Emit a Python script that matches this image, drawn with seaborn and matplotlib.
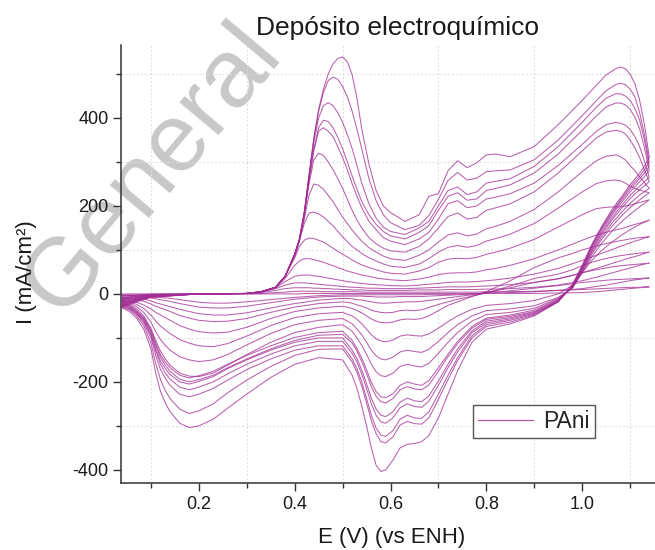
import numpy as np
import pandas as pd
import matplotlib
matplotlib.use("Agg")
import matplotlib.pyplot as plt
from matplotlib.lines import Line2D
from matplotlib.ticker import FixedLocator
import seaborn as sns

# ---------------- data ----------------
E_fwd = [0.04, 0.07, 0.10, 0.20, 0.30, 0.33, 0.36, 0.38, 0.40, 0.41,
         0.42, 0.43, 0.44, 0.45, 0.46, 0.47, 0.48, 0.49, 0.50, 0.51,
         0.52, 0.53, 0.54, 0.555, 0.57, 0.585, 0.60, 0.63, 0.66, 0.68,
         0.70, 0.72, 0.74, 0.76, 0.78, 0.80, 0.82, 0.85, 0.90, 0.95,
         1.00, 1.03, 1.05, 1.07, 1.08, 1.09, 1.10, 1.11, 1.12, 1.13,
         1.14]
E_rev = [1.14, 1.13, 1.12, 1.10, 1.08, 1.06, 1.04, 1.02, 1.00, 0.98,
         0.95, 0.90, 0.85, 0.80, 0.77, 0.74, 0.72, 0.70, 0.68, 0.665,
         0.65, 0.635, 0.62, 0.605, 0.59, 0.58, 0.57, 0.56, 0.55, 0.54,
         0.53, 0.52, 0.50, 0.45, 0.40, 0.35, 0.30, 0.26, 0.23, 0.20,
         0.18, 0.16, 0.14, 0.13, 0.12, 0.11, 0.10, 0.085, 0.07, 0.055,
         0.04]

# anodic (forward) sweeps, cycle 1 ... 15, current in mA/cm2
c01_fwd = [0, 0, 0, 0, 0, 0, 0, 0, 0, 0, 1, 1, 1, 1, 1, 1, 1, 1, 1, 1,
           1, 1, 1, 1, 1, 1, 1, 1, 1, 1, 1, 1, 1, 1, 1, 1, 1, 1, 1, 2,
           3, 5, 7, 9, 10, 11, 12, 13, 14, 15, 16]
c02_fwd = [-3, -2, -1, 0, 0, 1, 3, 4, 6, 6, 6, 6, 6, 6, 5, 5, 5, 5, 5, 5,
           5, 5, 4, 4, 4, 4, 4, 4, 4, 4, 4, 4, 4, 4, 4, 5, 5, 5, 6, 8,
           12, 17, 20, 24, 26, 28, 30, 32, 33, 35, 36]
c03_fwd = [-5, -3, -1, 0, 1, 3, 8, 12, 14, 14, 14, 14, 13, 13, 12, 12, 11, 11, 10, 10,
           9, 9, 9, 8, 8, 8, 8, 8, 9, 9, 9, 10, 10, 10, 10, 11, 11, 12, 15, 20,
           30, 38, 44, 50, 53, 56, 59, 62, 65, 68, 70]
c04_fwd = [-8, -5, -2, 0, 1, 4, 12, 20, 25, 25, 25, 24, 23, 22, 21, 20, 19, 18, 17, 16,
           15, 15, 14, 13, 13, 12, 12, 12, 13, 14, 15, 16, 16, 16, 17, 18, 19, 21, 26, 34,
           48, 58, 65, 72, 75, 79, 82, 85, 88, 92, 95]
c05_fwd = [-10, -6, -3, 0, 1, 4, 14, 28, 40, 42, 43, 43, 41, 40, 38, 36, 34, 32, 30, 28,
           27, 25, 24, 22, 21, 20, 19, 18, 20, 22, 24, 26, 27, 27, 28, 30, 32, 36, 45, 58,
           76, 88, 96, 104, 108, 112, 116, 120, 123, 127, 130]
c06_fwd = [-12, -8, -4, 0, 1, 5, 14, 35, 65, 75, 80, 80, 78, 75, 72, 68, 64, 60, 56, 52,
           49, 46, 43, 40, 36, 34, 32, 30, 34, 38, 44, 47, 48, 48, 50, 55, 58, 65, 80, 100,
           122, 134, 140, 146, 148, 151, 155, 158, 161, 164, 168]
c07_fwd = [-14, -9, -4, 0, 1, 5, 15, 40, 82, 108, 122, 127, 126, 122, 118, 111, 104, 97, 90, 84,
           77, 71, 66, 60, 55, 50, 47, 45, 52, 60, 72, 79, 81, 80, 83, 90, 95, 104, 124, 152,
           180, 194, 197, 198, 198, 200, 202, 205, 208, 211, 214]
c08_fwd = [-16, -10, -5, 0, 1, 5, 15, 40, 86, 120, 160, 184, 186, 182, 175, 165, 155, 142, 130, 119,
           108, 100, 92, 82, 75, 68, 63, 60, 68, 80, 95, 106, 110, 106, 110, 120, 126, 136, 160, 195,
           232, 251, 257, 259, 257, 252, 245, 240, 236, 233, 230]
c09_fwd = [-18, -12, -5, 0, 1, 5, 15, 40, 88, 122, 170, 225, 250, 247, 238, 224, 210, 192, 175, 160,
           145, 132, 120, 105, 95, 86, 80, 76, 88, 100, 118, 134, 139, 132, 136, 148, 154, 165, 192, 232,
           278, 303, 313, 316, 312, 305, 292, 280, 266, 253, 240]
c10_fwd = [-20, -13, -6, 0, 1, 5, 15, 40, 90, 124, 178, 250, 305, 320, 315, 300, 283, 262, 240, 215,
           190, 168, 150, 128, 114, 104, 98, 95, 108, 125, 150, 176, 184, 170, 174, 190, 196, 205, 232, 275,
           325, 355, 368, 372, 370, 364, 350, 332, 310, 282, 255]
c11_fwd = [-22, -14, -6, 0, 1, 5, 15, 40, 90, 124, 180, 258, 325, 370, 378, 370, 358, 335, 310, 282,
           250, 222, 196, 165, 146, 128, 120, 112, 125, 140, 170, 205, 212, 196, 200, 216, 220, 228, 252, 292,
           340, 370, 385, 390, 388, 384, 374, 358, 335, 302, 265]
c12_fwd = [-24, -15, -7, 0, 1, 5, 15, 40, 90, 125, 183, 262, 330, 378, 395, 392, 378, 356, 330, 300,
           268, 238, 210, 180, 158, 142, 132, 125, 140, 155, 190, 222, 230, 213, 216, 235, 240, 248, 275, 318,
           372, 405, 425, 434, 434, 430, 420, 402, 375, 332, 280]
c13_fwd = [-26, -16, -7, 0, 1, 5, 15, 40, 90, 125, 185, 268, 345, 400, 428, 435, 428, 412, 390, 362,
           330, 292, 252, 205, 172, 152, 142, 135, 150, 165, 200, 235, 243, 226, 232, 252, 256, 262, 290, 335,
           390, 425, 445, 455, 455, 450, 440, 422, 395, 350, 290]
c14_fwd = [-28, -17, -7, 0, 1, 5, 15, 40, 90, 125, 185, 270, 352, 415, 458, 485, 493, 488, 472, 448,
           415, 375, 330, 262, 212, 180, 162, 146, 156, 178, 215, 258, 276, 259, 263, 278, 280, 282, 305, 350,
           405, 440, 462, 476, 479, 476, 466, 448, 412, 362, 300]
c15_fwd = [-30, -18, -8, 0, 1, 5, 15, 40, 90, 125, 185, 270, 355, 420, 465, 500, 523, 535, 539, 528,
           498, 445, 375, 295, 235, 200, 185, 165, 180, 222, 228, 280, 303, 287, 298, 316, 318, 312, 335, 385,
           440, 475, 498, 512, 516, 512, 500, 478, 440, 385, 311]

# cathodic (reverse) sweeps, cycle 1 ... 15
c01_rev = [16, 16, 15, 15, 14, 13, 12, 11, 10, 9,
           8, 5, 3, 1, 0, 0, -1, -1, -1, -2,
           -2, -2, -2, -2, -2, -2, -2, -2, -2, -2,
           -2, -2, -2, -4, -8, -13, -18, -21, -21, -19,
           -16, -13, -10, -9, -8, -7, -5, -4, -4, -3, -3]
c02_rev = [36, 36, 35, 34, 33, 32, 30, 28, 26, 23,
           19, 13, 7, 2, 0, -2, -3, -4, -5, -6,
           -6, -6, -6, -7, -7, -7, -7, -6, -6, -5,
           -5, -5, -5, -7, -12, -20, -28, -32, -32, -30,
           -26, -22, -17, -15, -13, -11, -9, -7, -6, -5, -5]
c03_rev = [70, 69, 68, 66, 64, 61, 57, 53, 48, 42,
           35, 26, 14, 3, -2, -6, -9, -12, -15, -17,
           -18, -18, -19, -20, -21, -21, -20, -18, -16, -14,
           -13, -11, -10, -14, -22, -32, -43, -48, -48, -45,
           -40, -35, -29, -26, -23, -20, -16, -12, -10, -9, -8]
c04_rev = [95, 94, 93, 90, 87, 83, 78, 72, 64, 55,
           45, 35, 18, 2, -5, -12, -18, -24, -31, -36,
           -38, -37, -38, -42, -43, -42, -40, -37, -32, -28,
           -25, -21, -18, -22, -30, -42, -56, -62, -63, -60,
           -55, -49, -40, -36, -32, -28, -23, -17, -13, -11, -10]
c05_rev = [130, 129, 128, 125, 121, 117, 112, 106, 100, 92,
           82, 60, 30, 5, -6, -18, -26, -38, -50, -56,
           -58, -57, -59, -64, -66, -65, -62, -57, -50, -43,
           -38, -33, -28, -32, -40, -56, -76, -87, -89, -86,
           -80, -72, -60, -54, -48, -42, -34, -25, -19, -15, -12]
c06_rev = [168, 163, 158, 146, 132, 116, 98, 76, 48, 20,
           0, -15, -22, -26, -35, -50, -63, -78, -91, -96,
           -95, -93, -96, -105, -109, -107, -102, -93, -80, -68,
           -58, -50, -42, -45, -54, -72, -96, -113, -120, -118,
           -112, -104, -90, -82, -73, -62, -48, -33, -24, -18, -14]
c07_rev = [214, 206, 198, 181, 162, 140, 114, 84, 48, 14,
           -8, -27, -34, -38, -50, -70, -88, -108, -126, -133,
           -131, -128, -132, -144, -150, -148, -141, -128, -110, -93,
           -80, -68, -56, -60, -70, -90, -116, -138, -150, -154,
           -150, -143, -128, -117, -104, -86, -64, -42, -29, -21, -16]
c08_rev = [230, 222, 214, 196, 175, 151, 123, 90, 51, 14,
           -10, -33, -42, -47, -62, -88, -110, -135, -158, -166,
           -164, -160, -165, -180, -188, -186, -177, -160, -137, -117,
           -100, -85, -70, -76, -88, -110, -138, -162, -180, -188,
           -187, -180, -162, -148, -130, -106, -78, -50, -34, -24, -18]
c09_rev = [240, 232, 225, 206, 183, 158, 128, 94, 53, 15,
           -12, -37, -48, -55, -74, -108, -137, -168, -197, -208,
           -205, -200, -208, -227, -236, -234, -222, -201, -172, -146,
           -124, -106, -85, -88, -99, -118, -140, -160, -176, -186,
           -191, -185, -168, -155, -138, -112, -82, -54, -38, -26, -20]
c10_rev = [255, 246, 237, 217, 192, 165, 134, 98, 55, 16,
           -14, -40, -51, -58, -78, -113, -143, -176, -207, -218,
           -216, -211, -218, -238, -248, -245, -233, -211, -181, -154,
           -130, -112, -92, -94, -106, -125, -148, -168, -185, -195,
           -200, -194, -176, -162, -144, -117, -85, -56, -40, -28, -22]
c11_rev = [265, 255, 245, 224, 198, 170, 138, 101, 57, 17,
           -15, -42, -54, -62, -84, -125, -160, -198, -232, -245,
           -243, -237, -246, -268, -279, -276, -262, -237, -204, -173,
           -147, -128, -100, -100, -110, -128, -150, -170, -188, -199,
           -205, -200, -183, -170, -152, -124, -90, -59, -42, -30, -24]
c12_rev = [280, 267, 255, 232, 205, 176, 143, 105, 59, 18,
           -16, -44, -57, -66, -88, -132, -168, -208, -244, -258,
           -256, -250, -259, -282, -294, -291, -276, -250, -215, -182,
           -155, -135, -108, -108, -118, -137, -160, -182, -200, -212,
           -218, -212, -194, -180, -160, -130, -94, -62, -44, -32, -26]
c13_rev = [290, 275, 262, 238, 210, 180, 147, 108, 61, 19,
           -17, -46, -60, -70, -95, -145, -185, -228, -268, -283,
           -282, -276, -285, -311, -324, -321, -305, -276, -237, -200,
           -170, -148, -118, -118, -128, -148, -172, -196, -215, -228,
           -234, -228, -208, -192, -172, -140, -100, -66, -46, -34, -28]
c14_rev = [300, 282, 268, 243, 214, 184, 150, 110, 63, 20,
           -18, -48, -64, -74, -100, -152, -195, -240, -282, -296,
           -295, -290, -298, -325, -339, -336, -318, -288, -248, -210,
           -178, -155, -125, -126, -140, -165, -196, -225, -250, -266,
           -272, -262, -238, -220, -195, -158, -112, -72, -50, -36, -30]
c15_rev = [311, 290, 275, 248, 218, 188, 152, 112, 65, 22,
           -18, -50, -68, -80, -110, -175, -228, -282, -322, -336,
           -340, -342, -350, -378, -400, -404, -390, -350, -300, -255,
           -215, -185, -150, -145, -160, -190, -228, -260, -285, -300,
           -304, -294, -268, -248, -222, -180, -125, -80, -55, -40, -32]

fwd_list = [c01_fwd, c02_fwd, c03_fwd, c04_fwd, c05_fwd, c06_fwd, c07_fwd, c08_fwd,
            c09_fwd, c10_fwd, c11_fwd, c12_fwd, c13_fwd, c14_fwd, c15_fwd]
rev_list = [c01_rev, c02_rev, c03_rev, c04_rev, c05_rev, c06_rev, c07_rev, c08_rev,
            c09_rev, c10_rev, c11_rev, c12_rev, c13_rev, c14_rev, c15_rev]

x_major = [0.2, 0.4, 0.6, 0.8, 1.0]
x_minor = [0.1, 0.3, 0.5, 0.7, 0.9, 1.1]
y_major = [-400, -200, 0, 200, 400]
y_minor = [-300, -100, 100, 300, 500]

title_text = "Depósito electroquímico"
xlabel_text = "E (V) (vs ENH)"
ylabel_text = "I (mA/cm²)"
legend_label = "PAni"
watermark = "General"

# ---------------- build long table ----------------
rows = []
for k, (f, r) in enumerate(zip(fwd_list, rev_list), start=1):
    if len(f) != len(E_fwd) or len(r) != len(E_rev):
        raise ValueError(f"cycle {k}: fwd {len(f)} rev {len(r)}")
    n = 0
    for e, i in zip(E_fwd, f):
        rows.append((k, n, e, i)); n += 1
    for e, i in zip(E_rev, r):
        rows.append((k, n, e, i)); n += 1
df = pd.DataFrame(rows, columns=["cycle", "order", "E", "I"])

# ---------------- style ----------------
sns.set_theme(style="white")
plt.rcParams["font.family"] = ["Liberation Sans", "DejaVu Sans"]

fig = plt.figure(figsize=(6.55, 5.5), dpi=100)
fig.patch.set_facecolor("white")
ax = fig.add_axes([0.1847, 0.1218, 0.8153, 0.7964])
ax.patch.set_alpha(0)

line_color = "#a12a93"
sns.lineplot(data=df, x="E", y="I", units="cycle", estimator=None, sort=False,
             color=line_color, lw=0.75, alpha=0.75, ax=ax, legend=False)
for ln in ax.lines:
    ln.set_solid_joinstyle("round")

ax.set_xlim(0.0375, 1.152)
ax.set_ylim(-430, 566)

ax.xaxis.set_major_locator(FixedLocator(x_major))
ax.xaxis.set_minor_locator(FixedLocator(x_minor))
ax.yaxis.set_major_locator(FixedLocator(y_major))
ax.yaxis.set_minor_locator(FixedLocator(y_minor))
ax.set_xticklabels([f"{v:.1f}" for v in x_major])
ax.set_yticklabels([f"{v:d}" for v in y_major])

ax.grid(False)
for v in x_minor:
    ax.axvline(v, color="#dcdcdc", lw=0.7, ls=(0, (2, 2)), zorder=0)
for v in y_minor:
    ax.axhline(v, color="#dcdcdc", lw=0.7, ls=(0, (2, 2)), zorder=0)

for s in ["top", "right"]:
    ax.spines[s].set_visible(False)
for s in ["left", "bottom"]:
    ax.spines[s].set_color("#333333")
    ax.spines[s].set_linewidth(1.1)

ax.tick_params(axis="both", which="major", direction="out", length=6, width=1.0,
               color="#333333", labelsize=13, labelcolor="#1a1a1a", pad=3,
               bottom=True, left=True)
ax.tick_params(axis="both", which="minor", direction="out", length=3.5, width=1.0,
               color="#333333", bottom=True, left=True)

ax.set_xlabel(xlabel_text, fontsize=16, color="#1a1a1a")
ax.set_ylabel(ylabel_text, fontsize=16, color="#1a1a1a")
ax.xaxis.set_label_coords(0.5075, -0.100)
ax.yaxis.set_label_coords(-0.157, 0.482)

fig.text(398 / 655, 1 - 28 / 550, title_text, fontsize=19, color="#1a1a1a",
         ha="center", va="center")

handle = Line2D([0], [0], color=line_color, lw=0.9, alpha=0.8)
leg = ax.legend(handles=[handle], labels=[legend_label], loc="lower left",
                bbox_to_anchor=(473 / 655, 1 - 438 / 550), bbox_transform=fig.transFigure,
                fontsize=16.5, frameon=True, fancybox=False, framealpha=1,
                edgecolor="#555555", borderpad=0.22, handlelength=2.4,
                handletextpad=0.45, borderaxespad=0)
leg.get_frame().set_linewidth(1.0)

fig.text(152 / 655, 1 - 170 / 550, watermark, fontsize=70, color="#c8c8c8",
         rotation=50, ha="center", va="center", rotation_mode="anchor", zorder=-1)

fig.savefig("out.png", dpi=100)
